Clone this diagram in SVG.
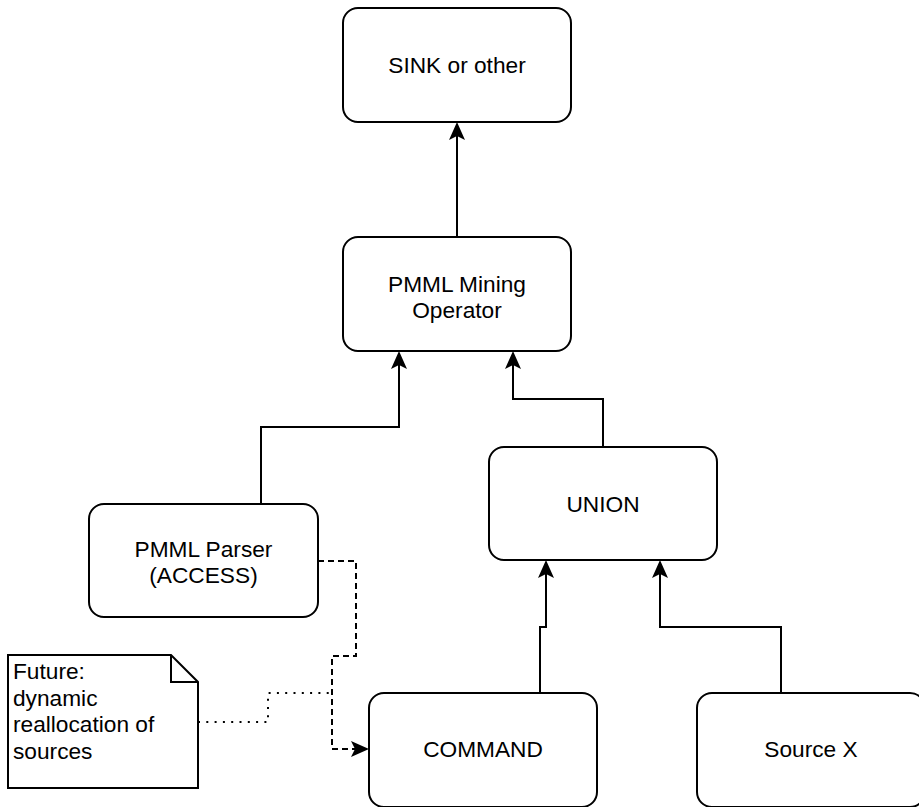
<svg xmlns="http://www.w3.org/2000/svg" width="919" height="807" viewBox="0 0 919 807">
<style>
.box{fill:#fff;stroke:#000;stroke-width:2}
.lbl{font-family:"Liberation Sans",Arial,sans-serif;font-size:22.7px;fill:#000;text-anchor:middle}
.note{font-family:"Liberation Sans",Arial,sans-serif;font-size:22.7px;fill:#000}
.edge{fill:none;stroke:#000;stroke-width:2}
.dash{stroke-dasharray:6 4}
.dot{stroke-dasharray:2 6.3}
</style>
<defs>
<marker id="arr" markerUnits="userSpaceOnUse" markerWidth="20" markerHeight="20" refX="0" refY="0" orient="auto" overflow="visible">
<path d="M14,0 L-4,-8 L0,0 L-4,8 Z" fill="#000" stroke="none"/>
</marker>
</defs>
<rect width="919" height="807" fill="#fff"/>
<g id="edges">
<path class="edge" d="M457,237 V136" marker-end="url(#arr)"/>
<path class="edge" d="M261,504 V427 H399 V365" marker-end="url(#arr)"/>
<path class="edge" d="M603,447 V399 H513 V365" marker-end="url(#arr)"/>
<path class="edge" d="M540,693 V627 H546 V574" marker-end="url(#arr)"/>
<path class="edge" d="M781,693 V627 H660 V574" marker-end="url(#arr)"/>
<path class="edge dash" d="M318,561 H356 V656 H332 V749 H355" marker-end="url(#arr)"/>
<path class="edge dot" d="M198,722 H268 V693 H332"/>
</g>
<g id="sink">
<rect class="box" x="343" y="8" width="228" height="114" rx="15"/>
<text class="lbl" x="457" y="73">SINK or other</text>
</g>
<g id="mining">
<rect class="box" x="343" y="237" width="228" height="114" rx="15"/>
<text class="lbl" x="457" y="292">PMML Mining</text>
<text class="lbl" x="457" y="318">Operator</text>
</g>
<g id="parser">
<rect class="box" x="89" y="504" width="229" height="113" rx="15"/>
<text class="lbl" x="203.5" y="557">PMML Parser</text>
<text class="lbl" x="203.5" y="583">(ACCESS)</text>
</g>
<g id="union">
<rect class="box" x="489" y="447" width="228" height="113" rx="15"/>
<text class="lbl" x="603" y="512">UNION</text>
</g>
<g id="command">
<rect class="box" x="369" y="693" width="228" height="114" rx="15"/>
<text class="lbl" x="483" y="757">COMMAND</text>
</g>
<g id="sourcex">
<rect class="box" x="697" y="693" width="228" height="114" rx="15"/>
<text class="lbl" x="811" y="757">Source X</text>
</g>
<g id="note">
<path class="box" d="M8,655 H171 L198,682 V788 H8 Z"/>
<path class="edge" d="M171,655 V682 H198"/>
<text class="note" x="13" y="679">Future:</text>
<text class="note" x="13" y="706">dynamic</text>
<text class="note" x="13" y="732">reallocation of</text>
<text class="note" x="13" y="759">sources</text>
</g>
</svg>
